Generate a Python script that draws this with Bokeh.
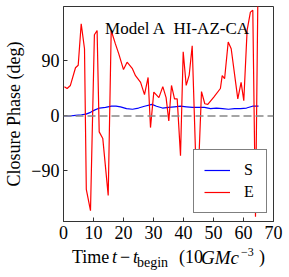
from bokeh.plotting import figure
from bokeh.models import Range1d, FixedTicker, Label, Legend, LegendItem, Span, Div
from bokeh.layouts import column
from bokeh.embed import file_html
from bokeh.resources import INLINE

# ---- data ----
t_S = [0, 2, 4, 6, 7.5, 9, 10.5, 12, 14, 16, 17.5, 19, 21, 23, 25, 27, 29.5, 31, 33, 35,
       37, 39, 41, 43, 45, 47, 49, 51, 53, 55, 57, 59, 61, 63, 65]
S = [0, 0, 1, 2, 3, 6, 10, 13, 14, 16, 16, 15, 12, 11, 13, 16, 19, 16, 13, 14,
     15, 16, 15, 14, 14, 14, 12, 13, 12, 11, 12, 12, 13, 16, 16]

t_E = [0.3, 1.2, 2.3, 4.0, 4.9, 5.9, 7.0, 7.6, 9.0, 10.3, 11.2, 11.9, 13.1, 14.9, 15.9,
       17.3, 18.4, 20.0, 21.2, 22.9, 24.0, 25.7, 27.0, 28.2, 29.0, 30.1, 31.8, 33.1, 34.2,
       35.1, 36.0, 37.0, 37.9, 39.0, 39.9, 40.9, 41.9, 42.9, 44.0, 45.1, 46.0, 47.1, 48.1,
       50.1, 52.3, 52.9, 53.7, 54.9, 55.9, 58.1, 59.2, 60.1, 61.2, 62.3, 63.1, 64.0, 64.8]
E = [48, 45, 50, 79, 83, 151, 110, -120, -155, 133, 140, -26, -37, -130, 140,
     118, 102, 76, 88, 78, 66, 55, 35, 63, -19, 39, 30, 48, 30,
     -8, 50, 28, 28, -65, 105, 50, 67, 115, -59, -74, 40, 20, 19,
     31, 45, 66, 61, 121, 110, 28, 55, 25, 140, 170, 173, -165, 200]

x_ticks = [0, 10, 20, 30, 40, 50, 60, 70]
y_ticks = [-90, 0, 90]
y_tick_labels = {-90: "\u221290", 0: "0", 90: "90"}

title_text = "Model A\u00a0 HI-AZ-CA"
y_label = "Closure Phase (deg)"
series_names = ["S", "E"]

SERIF = "Liberation Serif"

p = figure(width=289, height=246, output_backend="svg", toolbar_location=None,
           x_range=Range1d(0, 70), y_range=Range1d(-172.7, 179.2),
           min_border_left=63, min_border_right=16, min_border_top=6, min_border_bottom=25)
p.background_fill_color = "white"
p.border_fill_color = "white"
p.outline_line_color = "#333333"
p.outline_line_width = 1
p.grid.visible = False

# zero line
p.add_layout(Span(location=0, dimension="width", line_color="#888888",
                  line_width=1.4, line_dash="8 4"))

rS = p.line(t_S, S, line_color="#0000ff", line_width=1.2)
rE = p.line(t_E, E, line_color="#ff0000", line_width=1.2)

for ax in (p.xaxis[0], p.yaxis[0]):
    ax.major_tick_in = 4
    ax.major_tick_out = 0
    ax.minor_tick_line_color = None
    ax.axis_line_color = "#333333"
    ax.major_tick_line_color = "#333333"
    ax.major_label_text_font = SERIF
    ax.major_label_text_font_size = "18px"
    ax.major_label_text_color = "black"
    ax.major_label_standoff = 4

p.xaxis[0].ticker = FixedTicker(ticks=x_ticks)
p.yaxis[0].ticker = FixedTicker(ticks=y_ticks)
p.yaxis[0].major_label_overrides = y_tick_labels
p.yaxis[0].axis_label = y_label
p.yaxis[0].axis_label_text_font = SERIF
p.yaxis[0].axis_label_text_font_size = "18px"
p.yaxis[0].axis_label_text_font_style = "normal"
p.yaxis[0].axis_label_text_color = "black"
p.yaxis[0].axis_label_standoff = 4

# title inside plot
p.add_layout(Label(x=38, y=144, text=title_text, text_font=SERIF, text_font_size="17px",
                   text_align="center", text_baseline="alphabetic", text_color="black"))

legend = Legend(items=[LegendItem(label=series_names[0], renderers=[rS]),
                       LegendItem(label=series_names[1], renderers=[rE])],
                location=(130, 8))
legend.label_text_font = SERIF
legend.label_text_font_size = "16px"
legend.label_text_color = "black"
legend.border_line_color = "black"
legend.border_line_width = 1
legend.background_fill_alpha = 1
legend.padding = 10
legend.spacing = 2
legend.margin = 0
legend.glyph_width = 26
legend.glyph_height = 20
legend.label_height = 20
legend.label_width = 12
legend.label_standoff = 14
p.add_layout(legend, "center")

# x-axis label as real text with italics, subscript and superscript
def span(txt, left, top, size, style="normal"):
    return (f'<span style="position:absolute; left:{left}px; top:{top}px; '
            f'font-size:{size}px; font-style:{style}; line-height:1; white-space:nowrap;">'
            f'{txt}</span>')

xlabel_html = ('<div style="position:relative; width:289px; height:28px; '
               'font-family:\'Liberation Serif\'; color:black;">'
               + span("Time", 72, 2, 18)
               + span("t", 112, 2, 18, "italic")
               + span("\u2212", 120, 2, 18)
               + span("t", 133, 2, 18, "italic")
               + span("begin", 137, 10, 14)
               + span("(10", 179, 2, 18)
               + span("GMc", 201, 2, 19, "italic")
               + span("\u22123", 241, 0, 12)
               + span(")", 259, 2, 18)
               + '</div>')
xlabel = Div(text=xlabel_html, width=289, height=28, margin=(0, 0, 0, 0))

layout = column(p, xlabel, spacing=0)
open("out.html", "w").write(file_html(layout, INLINE))
